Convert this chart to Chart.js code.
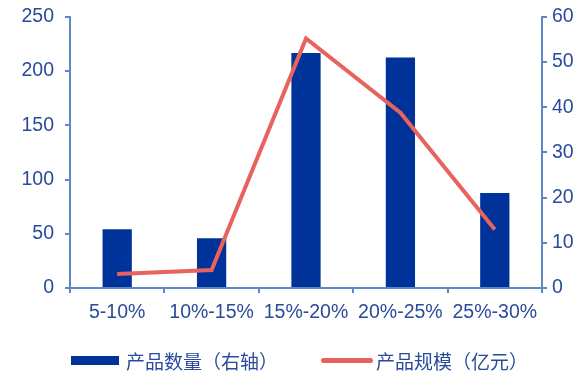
<!DOCTYPE html>
<html>
<head>
<meta charset="utf-8">
<script src="https://cdn.jsdelivr.net/npm/chart.js@4.4.1/dist/chart.umd.min.js"></script>
<style>
  html, body { margin: 0; padding: 0; background: #fff; overflow: hidden; }
  .wrap { position: relative; width: 580px; height: 375px; overflow: hidden; }
  #chart { position: absolute; left: 0; top: -4px; }
  .legend {
    position: absolute; left: 0; top: 345px; width: 580px; height: 30px;
    font-family: "Noto Sans CJK SC", "Liberation Sans", sans-serif;
    font-size: 19px; color: #2A4A9C;
  }
  .legend .item { position: absolute; top: 0; display: flex; align-items: center; height: 30px; }
  .legend .sw-bar { width: 48px; height: 9px; background: #003399; margin-right: 7px; }
  .legend .sw-line { width: 52px; height: 5px; background: #E8625E; border-radius: 3px; margin-right: 3px; }
</style>
</head>
<body>
<div class="wrap">
  <canvas id="chart" width="580" height="379"></canvas>
  <div class="legend">
    <div class="item" style="left:71px"><span class="sw-bar"></span><span>产品数量（右轴）</span></div>
    <div class="item" style="left:321px"><span class="sw-line"></span><span>产品规模（亿元）</span></div>
  </div>
</div>
<script>
const categories = ['5-10%', '10%-15%', '15%-20%', '20%-25%', '25%-30%'];
const productCount = [13, 11, 52, 51, 21];          // 产品数量，右轴
const productScale = [13, 16.5, 230, 161.5, 54];    // 产品规模（亿元），左轴
const leftTicks = [0, 50, 100, 150, 200, 250];
const rightTicks = [0, 10, 20, 30, 40, 50, 60];

const textColor = '#2A4A9C';
const axisColor = '#5C88C6';
const numFont = { family: 'Liberation Sans, Arial, sans-serif', size: 19.5, lineHeight: 1 };

const ctx = document.getElementById('chart').getContext('2d');
new Chart(ctx, {
  type: 'bar',
  data: {
    labels: categories,
    datasets: [
      {
        type: 'line',
        label: '产品规模（亿元）',
        data: productScale,
        yAxisID: 'y',
        borderColor: '#E8625E',
        borderWidth: 4,
        pointRadius: 0,
        tension: 0,
        order: 0
      },
      {
        type: 'bar',
        label: '产品数量（右轴）',
        data: productCount,
        yAxisID: 'y1',
        backgroundColor: '#003399',
        categoryPercentage: 1,
        barPercentage: 0.31,
        order: 1
      }
    ]
  },
  options: {
    responsive: false,
    animation: false,
    layout: { padding: 0 },
    plugins: { legend: { display: false }, tooltip: { enabled: false } },
    scales: {
      x: {
        offset: true,
        grid: { offset: true, drawOnChartArea: false, tickLength: 5, color: axisColor, lineWidth: 2 },
        border: { color: axisColor, width: 2 },
        ticks: {
          color: textColor,
          font: { family: 'Liberation Sans, Arial, sans-serif', size: 19.5, lineHeight: 1 },
          padding: 10, maxRotation: 0, autoSkip: false
        },
        afterFit: s => { s.height = 87; }
      },
      y: {
        position: 'left',
        min: 0, max: 250,
        afterBuildTicks: s => { s.ticks = leftTicks.map(v => ({ value: v })); },
        grid: { drawOnChartArea: false, tickLength: 5, color: axisColor, lineWidth: 2 },
        border: { color: axisColor, width: 2 },
        ticks: { color: textColor, font: numFont, padding: 11 },
        afterFit: s => { s.width = 70; }
      },
      y1: {
        position: 'right',
        min: 0, max: 60,
        afterBuildTicks: s => { s.ticks = rightTicks.map(v => ({ value: v })); },
        grid: { drawOnChartArea: false, tickLength: 5, color: axisColor, lineWidth: 2 },
        border: { color: axisColor, width: 2 },
        ticks: { color: textColor, font: numFont, padding: 5 },
        afterFit: s => { s.width = 38; }
      }
    }
  }
});
</script>
</body>
</html>
